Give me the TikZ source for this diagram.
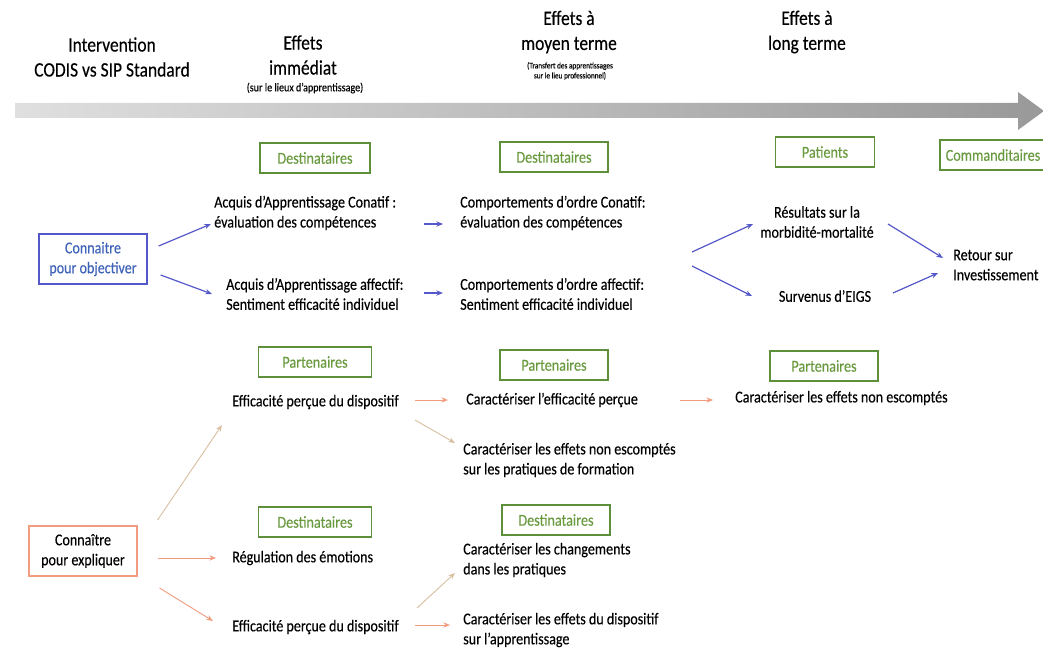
\documentclass[tikz,border=0pt]{standalone}
\usepackage{fontspec}
\setmainfont[FakeStretch=0.85,FakeBold=0.3]{Carlito}
\usetikzlibrary{arrows.meta}
\definecolor{bleu}{HTML}{5558C8}
\definecolor{bleutxt}{HTML}{3F64B8}
\definecolor{saumon}{HTML}{F29C80}
\definecolor{beige}{HTML}{D9C0A2}
\definecolor{vert}{HTML}{5E8F3A}
\definecolor{verttxt}{HTML}{6A9A40}

\begin{document}
\begin{tikzpicture}[x=0.75pt,y=-0.75pt,
  txt/.style={inner sep=0pt,align=left,anchor=west,font=\fontsize{12.4}{15}\selectfont},
  txtc/.style={inner sep=0pt,align=center,font=\fontsize{12.4}{15}\selectfont},
  head/.style={inner sep=0pt,align=center,font=\fontsize{15.4}{18.75}\selectfont},
  petit/.style={inner sep=0pt,align=center,font=\fontsize{6.4}{7.5}\selectfont},
  cible/.style={draw=vert,line width=1pt,text=verttxt,minimum height=22.5pt,inner sep=0pt,font=\fontsize{12.5}{15}\selectfont},
  fleche/.style={line width=0.9pt,-{Stealth[length=5pt,width=4pt]}},
  flb/.style={fleche,bleu},
  flo/.style={fleche,saumon,line width=0.7pt},
  flt/.style={fleche,beige,line width=0.7pt}]
\useasboundingbox (0,0) rectangle (1043,667);

\shade[left color=gray!25,right color=gray!80] (15,103) -- (1018,103) -- (1018,92) -- (1044,111)
  -- (1018,130) -- (1018,118) -- (15,118) -- cycle;

\node[head] (h1) at (112,57) {Intervention\\CODIS vs SIP Standard};
\node[head] (h2) at (303,55) {Effets\\immédiat};
\node[petit,font=\fontsize{8.9}{10}\selectfont] (h2b) at (305,88) {(sur le lieux d’apprentissage)};
\node[head] (h3) at (569,32) {Effets à\\moyen terme};
\node[petit] (h3b) at (570,71) {(Transfert des apprentissages\\sur le lieu professionnel)};
\node[head] (h4) at (807,32) {Effets à\\long terme};

\node[cible,minimum width=82.5pt] (dest1) at (315,158) {Destinataires};
\node[cible,minimum width=81pt] (dest2) at (554,157) {Destinataires};
\node[cible,minimum width=74pt] (pat) at (825,152) {Patients};
\node[cible,minimum width=79.5pt] (comm) at (993,155) {Commanditaires};
\node[cible,minimum width=85pt] (part1) at (315,362) {Partenaires};
\node[cible,minimum width=81pt] (part2) at (554,365) {Partenaires};
\node[cible,minimum width=81pt] (part3) at (824,366) {Partenaires};
\node[cible,minimum width=85pt] (dest3) at (315,522) {Destinataires};
\node[cible,minimum width=81pt] (dest4) at (556,520) {Destinataires};

\node[draw=bleu,line width=1pt,text=bleutxt,minimum width=81pt,minimum height=37.5pt,inner sep=0pt,align=center,font=\fontsize{12.4}{15}\selectfont] (obj) at (93,259) {Connaitre\\pour objectiver};
\node[draw=saumon,line width=0.8pt,minimum width=81pt,minimum height=37.5pt,inner sep=0pt,align=center,font=\fontsize{12.4}{15}\selectfont] (expl) at (83,551) {Connaître\\pour expliquer};

\node[txt] (aconat) at (214,213) {Acquis d’Apprentissage Conatif :\\évaluation des compétences};
\node[txt] (aaffect) at (226,294) {Acquis d’Apprentissage affectif:\\Sentiment efficacité individuel};
\node[txt] (bconat) at (460,213) {Comportements d’ordre Conatif:\\évaluation des compétences};
\node[txt] (baffect) at (460,294) {Comportements d’ordre affectif:\\Sentiment efficacité individuel};
\node[txtc] (resmm) at (817,222) {Résultats sur la\\morbidité-mortalité};
\node[txtc] (eigs) at (825,296) {Survenus d’EIGS};
\node[txt] (roi) at (953,265) {Retour sur\\Investissement};

\node[txt] (perc1) at (232,402) {Efficacité perçue du dispositif};
\node[txt] (carperc) at (466,400) {Caractériser l’efficacité perçue};
\node[txt] (carnon1) at (735,398) {Caractériser les effets non escomptés};
\node[txt] (carnon2) at (463,460) {Caractériser les effets non escomptés\\sur les pratiques de formation};
\node[txt] (regul) at (232,558) {Régulation des émotions};
\node[txt] (perc2) at (232,627) {Efficacité perçue du dispositif};
\node[txt] (carchang) at (463,560) {Caractériser les changements\\dans les pratiques};
\node[txt] (careff) at (463,630) {Caractériser les effets du dispositif\\sur l’apprentissage};

\draw[flb] ([xshift=8.25pt,yshift=9.75pt]obj.east) -- ([xshift=-2.25pt,yshift=-8.25pt]aconat.west);
\draw[flb] ([xshift=9.75pt,yshift=-12pt]obj.east) -- ([xshift=-10.5pt]aaffect.west);
\draw[flb] ([xshift=157.5pt,yshift=-8.25pt]aconat.west) -- ([xshift=-12.75pt,yshift=-8.25pt]bconat.west);
\draw[flb] ([xshift=148.5pt,yshift=0.75pt]aaffect.west) -- ([xshift=-12.75pt,yshift=0.75pt]baffect.west);
\draw[flb] ([xshift=174pt,yshift=-29.25pt]bconat.west) -- ([xshift=-48pt,yshift=-1.5pt]resmm.center);
\draw[flb] ([xshift=174pt,yshift=21pt]baffect.west) -- ([xshift=-54.75pt]eigs.center);
\draw[flb] ([xshift=53.25pt,yshift=-1.5pt]resmm.center) -- ([xshift=-7.5pt,yshift=5.25pt]roi.west);
\draw[flb] ([xshift=51pt,yshift=2.25pt]eigs.center) -- ([xshift=-11.25pt,yshift=-6pt]roi.west);

\draw[flt] ([xshift=15pt,yshift=23.25pt]expl.east) -- ([xshift=-7.5pt,yshift=-17.25pt]perc1.west);
\draw[flo] ([xshift=15pt,yshift=-5.25pt]expl.east) -- ([xshift=-12pt]regul.west);
\draw[flo] ([xshift=16.5pt,yshift=-27.75pt]expl.east) -- ([xshift=-14.25pt,yshift=4.5pt]perc2.west);
\draw[flo] ([xshift=137.25pt,yshift=1.5pt]perc1.west) -- ([xshift=-13.5pt]carperc.west);
\draw[flt] ([xshift=137.25pt,yshift=-13.5pt]perc1.west) -- ([xshift=-6pt,yshift=12.75pt]carnon2.west);
\draw[flo] ([xshift=160.5pt]carperc.west) -- ([xshift=-16.5pt,yshift=-1.5pt]carnon1.west);
\draw[flt] ([xshift=138.75pt,yshift=14.25pt]perc2.west) -- ([xshift=-6pt,yshift=-9.75pt]carchang.west);
\draw[flo] ([xshift=137.25pt,yshift=1.5pt]perc2.west) -- ([xshift=-9.75pt,yshift=3.75pt]careff.west);
\end{tikzpicture}
\end{document}
